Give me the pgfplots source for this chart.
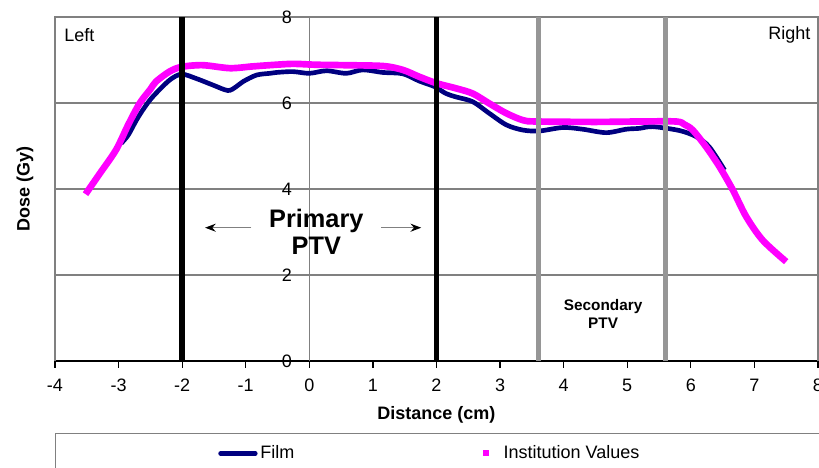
\documentclass[border=0pt]{standalone}
\usepackage{fontspec}
\setmainfont{Liberation Sans}
\usepackage{pgfplots}
\pgfplotsset{compat=1.18}
\usetikzlibrary{arrows.meta}
\definecolor{filmnavy}{RGB}{0,0,128}
\definecolor{instmag}{RGB}{255,0,255}
\definecolor{gridgray}{RGB}{128,128,128}
\definecolor{ptvgray}{RGB}{150,150,150}
\begin{document}
\fontsize{13.5}{16}\selectfont
\begin{tikzpicture}
\begin{axis}[
  at={(0,0)}, anchor=south west,
  scale only axis, width=572.25pt, height=258pt,
  xmin=-4, xmax=8, ymin=0, ymax=8,
  axis x line=bottom, axis y line=center,
  hide obscured y ticks=false,
  axis line style={-},
  x axis line style={black, line width=0.9pt},
  y axis line style={gridgray, line width=0.9pt},
  xtick={-4,-3,...,8}, ytick={0,2,4,6,8},
  yticklabels={},
  xtick align=outside, ytick align=center,
  major tick length=5pt,
  x tick style={black, line width=0.9pt},
  y tick style={gridgray, line width=0.9pt},
  ymajorgrids, grid style={gridgray, line width=1pt},
  /pgf/number format/assume math mode=true,
  tick label style={font=\fontsize{13.5}{16}\selectfont},
  xticklabel style={yshift=-4pt},
  xlabel={Distance (cm)},
  ylabel={Dose (Gy)},
  every axis x label/.style={at={([yshift=-40.5pt]rel axis cs:0.5,0)}, anchor=center, font=\bfseries\fontsize{13.5}{16}\selectfont},
  every axis y label/.style={at={([xshift=-22.5pt]rel axis cs:0,0.5)}, rotate=90, anchor=center, font=\bfseries\fontsize{13.5}{16}\selectfont},
  legend columns=2,
  legend style={at={(0,-0.2093)}, anchor=north west, draw=gridgray, line width=0.9pt,
    inner xsep=122pt, inner ysep=7pt, font=\fontsize{13.5}{16}\selectfont,
    /tikz/every even column/.append style={column sep=136pt}},
  legend cell align=left,
  clip=false,
]
\draw[gridgray, line width=1pt] (rel axis cs:0,0) -- (rel axis cs:0,1) -- (rel axis cs:1,1) -- (rel axis cs:1,0);
\addplot[filmnavy, line width=3.5pt, smooth, tension=0.5,
  legend image code/.code={\draw[filmnavy, line width=3.5pt, line cap=round] (0pt,0pt) -- (26pt,0pt);}]
coordinates {
(-2.96,5.06) (-2.85,5.25) (-2.72,5.60) (-2.60,5.88) (-2.46,6.15) (-2.20,6.53) (-2.01,6.67)
(-1.78,6.57) (-1.52,6.42) (-1.28,6.29) (-1.15,6.38) (-1.04,6.50) (-0.83,6.65) (-0.62,6.69)
(-0.52,6.71) (-0.26,6.73) (0.00,6.69) (0.27,6.75) (0.58,6.69) (0.84,6.77) (1.16,6.71)
(1.47,6.68) (1.73,6.51) (1.97,6.38) (2.15,6.22) (2.31,6.14) (2.57,6.03) (2.83,5.76)
(3.10,5.49) (3.36,5.37) (3.62,5.35) (3.99,5.43) (4.30,5.39) (4.67,5.31) (4.98,5.39)
(5.19,5.41) (5.40,5.45) (5.82,5.36) (6.08,5.22) (6.29,4.98) (6.53,4.44)
};
\addlegendentry{Film}
\addplot[instmag, line width=5pt, smooth, tension=0.5,
  legend image code/.code={\node[rectangle, draw=none, fill=none, inner sep=0pt, outer sep=0pt, minimum width=17pt, minimum height=4pt, anchor=west] at (0pt,0pt) {};\node[rectangle, fill=instmag, draw=none, inner sep=0pt, outer sep=0pt, minimum width=4.5pt, minimum height=4.5pt] at (3.5pt,0pt) {};}]
coordinates {
(-3.52,3.88) (-3.30,4.35) (-3.04,4.91) (-2.85,5.49) (-2.67,5.99) (-2.50,6.32) (-2.41,6.50)
(-2.20,6.73) (-2.01,6.84) (-1.68,6.88) (-1.25,6.81) (-0.90,6.85) (-0.62,6.88) (-0.26,6.91)
(0.10,6.89) (0.53,6.88) (1.16,6.86) (1.47,6.77) (1.73,6.61) (2.00,6.46) (2.31,6.34)
(2.57,6.22) (2.83,5.99) (3.10,5.76) (3.36,5.60) (3.57,5.57) (4.50,5.56) (5.19,5.57)
(5.77,5.57) (5.90,5.50) (6.03,5.37) (6.24,4.98) (6.45,4.52) (6.66,3.98) (6.87,3.36)
(7.13,2.81) (7.50,2.31)
};
\addlegendentry{Institution Values\hspace*{30pt}}
\addplot[black, line width=4pt, forget plot] coordinates {(-2,0) (-2,8)};
\addplot[black, line width=4pt, forget plot] coordinates {(2,0) (2,8)};
\addplot[ptvgray, line width=4pt, forget plot] coordinates {(3.6,0) (3.6,8)};
\addplot[ptvgray, line width=4pt, forget plot] coordinates {(5.6,0) (5.6,8)};
\pgfplotsinvokeforeach{0,2,4,6,8}{\node[anchor=east, inner sep=0pt] at (axis cs:-0.27,#1) {#1};}
\node[anchor=west] at (axis cs:-3.95,7.58) {Left};
\node[anchor=east] at (axis cs:7.98,7.58) {Right};
\node[align=center, font=\bfseries\fontsize{19}{20}\selectfont] at (axis cs:0.11,3.01) {Primary\\PTV};
\draw[gridgray, line width=1pt, -{Stealth[black, length=8pt, width=6pt]}] (axis cs:-0.91,3.10) -- (axis cs:-1.64,3.10);
\draw[gridgray, line width=1pt, -{Stealth[black, length=8pt, width=6pt]}] (axis cs:1.13,3.10) -- (axis cs:1.76,3.10);
\node[align=center, font=\bfseries\fontsize{11.5}{13.7}\selectfont] at (axis cs:4.62,1.09) {Secondary\\PTV};
\end{axis}
\pgfresetboundingbox
\path (-41.25pt,-80.25pt) rectangle (573pt,270.75pt);
\end{tikzpicture}
\end{document}
